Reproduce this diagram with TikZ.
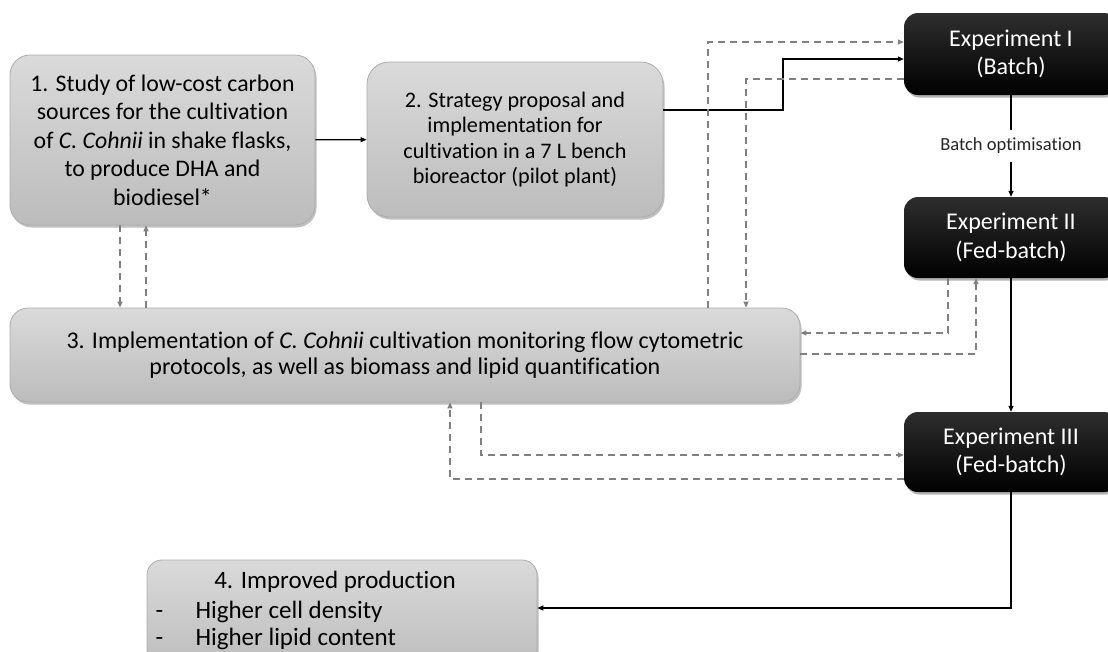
\documentclass[tikz,border=0pt]{standalone}
\usepackage{fontspec}
\setmainfont[Ligatures={NoCommon}]{Carlito}
\usetikzlibrary{arrows.meta,shadows,shadings}
\definecolor{boxtop}{RGB}{218,218,218}
\definecolor{boxbot}{RGB}{188,188,188}
\definecolor{boxborder}{RGB}{172,172,172}
\definecolor{dashgray}{RGB}{128,128,128}
\begin{document}
\begin{tikzpicture}[x=1pt,y=-1pt,
  gbox/.style={draw=boxborder, line width=0.8pt, top color=boxtop, bottom color=boxbot,
    align=center, inner sep=0pt, text=black,
    drop shadow={shadow xshift=1.5pt, shadow yshift=-2.5pt, opacity=0.25, fill=black}},
  ebox/.style={rounded corners=14pt, top color=black!82, bottom color=black, text=white,
    align=center, inner sep=0pt, minimum width=214pt,
    font={\fontsize{24}{28.5}\selectfont},
    drop shadow={shadow xshift=1.5pt, shadow yshift=-2.5pt, opacity=0.3, fill=black}},
  tip/.style={-{Triangle[length=6pt,width=5pt]}},
  solidarrow/.style={tip, line width=1.3pt, black},
  dasharrow/.style={tip, line width=1.4pt, dashgray, dash pattern=on 7pt off 5pt},
]
\useasboundingbox (0,0) rectangle (1108,651);
\clip (0,0) rectangle (1108,651);

% grey boxes
\node[gbox, rounded corners=20pt, minimum width=305pt, minimum height=170pt,
  font={\fontsize{23.8}{28.5}\selectfont}] (b1) at (162.5,140)
  {1. Study of low-cost carbon\\ sources for the cultivation\\ of \textit{C. Cohnii} in shake flasks,\\ to produce DHA and\\ biodiesel*};
\node[gbox, rounded corners=22pt, minimum width=296pt, minimum height=155pt,
  font={\fontsize{22.2}{25.5}\selectfont}] (b2) at (515,139.5)
  {2. Strategy proposal and\\ implementation for\\ cultivation in a 7 L bench\\ bioreactor (pilot plant)};
\node[gbox, rounded corners=18pt, minimum width=790pt, minimum height=94pt,
  font={\fontsize{24}{25.5}\selectfont}] (b3) at (405,355)
  {3. Implementation of \textit{C. Cohnii} cultivation monitoring flow cytometric\\ protocols, as well as biomass and lipid quantification};
\node[gbox, rounded corners=15pt, minimum width=390pt, minimum height=110pt] (b4) at (342,615) {};
\node[anchor=base, font={\fontsize{25}{29}\selectfont}] (t4a) at (335,588) {4. Improved production};
\node[anchor=base west, font={\fontsize{25}{29}\selectfont}] (t4b) at (152,618) {\makebox[40pt][l]{-}Higher cell density};
\node[anchor=base west, font={\fontsize{25}{29}\selectfont}] (t4c) at (152,645) {\makebox[40pt][l]{-}Higher lipid content};

% experiment boxes
\node[ebox, minimum height=82pt] (e1) at (1011,54) {Experiment I\\(Batch)};
\node[ebox, minimum height=81pt] (e2) at (1011,237.5) {Experiment II\\(Fed-batch)};
\node[ebox, minimum height=80pt] (e3) at (1011,452) {Experiment III\\(Fed-batch)};

% solid connectors
\draw[solidarrow] (b1) -- (b2);
\draw[solidarrow] (b2.east |- 0,110) -- (783,110) -- (783,59) -- (e1.west |- 0,59);
\draw[solidarrow] (e1) -- node[fill=white, inner xsep=2pt, inner ysep=8pt, text=black!85,
  font={\fontsize{18.5}{22}\selectfont}] (lbl) {Batch optimisation} (e2);
\draw[solidarrow] (e2) -- (e3);
\draw[solidarrow] (e3.south) |- (b4.east |- 0,608);

% dashed connectors
\draw[dasharrow] (b1.south -| 120,0) -- (b3.north -| 120,0);
\draw[dasharrow] (b3.north -| 146,0) -- (b1.south -| 146,0);
\draw[dasharrow] (b3.north -| 708,0) |- (e1.west |- 0,42);
\draw[dasharrow] (e1.west |- 0,79) -| (b3.north -| 746,0);
\draw[dasharrow] (e2.south -| 948,0) |- (b3.east |- 0,333);
\draw[dasharrow] (b3.east |- 0,354) -| (e2.south -| 976,0);
\draw[dasharrow] (b3.south -| 481,0) |- (e3.west |- 0,455);
\draw[dasharrow] (e3.west |- 0,479) -| (b3.south -| 450,0);
\end{tikzpicture}
\end{document}
